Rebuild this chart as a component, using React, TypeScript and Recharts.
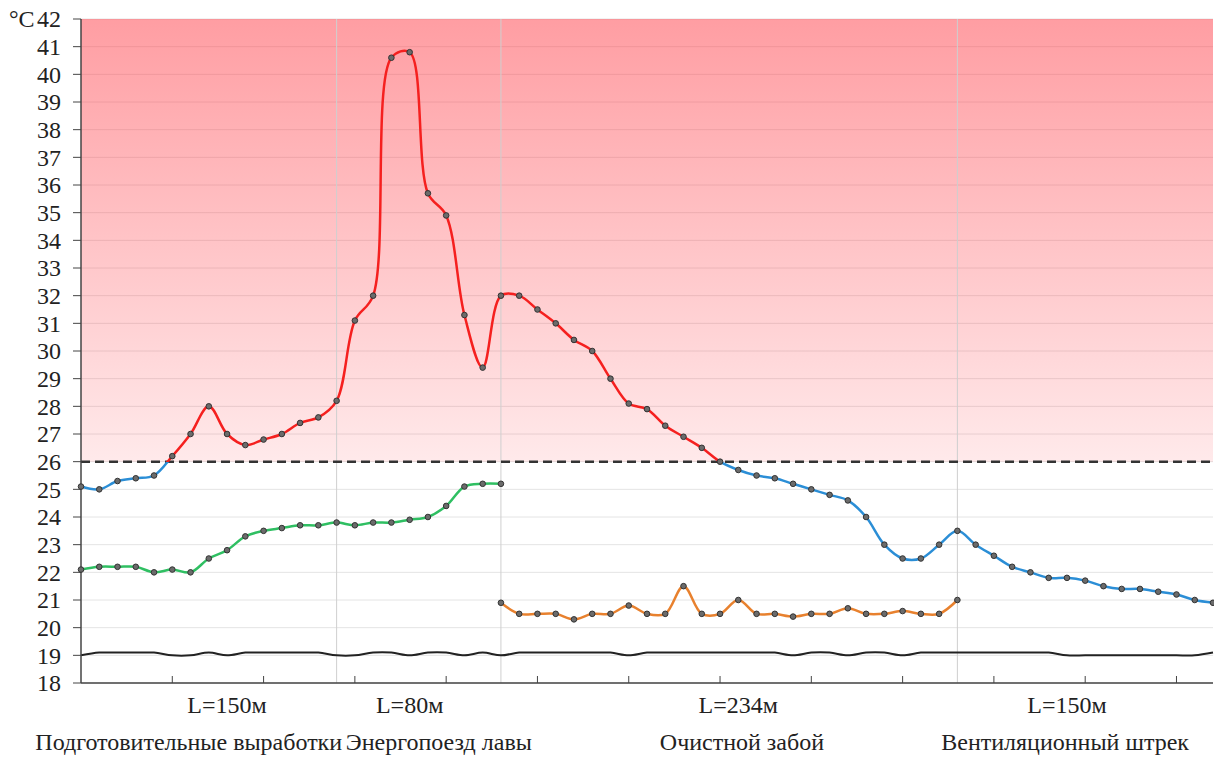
import { LineChart, Line, XAxis, YAxis, CartesianGrid, ReferenceLine, ReferenceArea } from "recharts";

// temperature along the route, one reading per station
const mainTemp = [
  25.1, 25.0, 25.3, 25.4, 25.5, 26.2, 27.0, 28.0, 27.0, 26.6, 26.8, 27.0, 27.4, 27.6, 28.2,
  31.1, 32.0, 40.6, 40.8, 35.7, 34.9, 31.3, 29.4, 32.0, 32.0, 31.5, 31.0, 30.4, 30.0, 29.0,
  28.1, 27.9, 27.3, 26.9, 26.5, 26.0, 25.7, 25.5, 25.4, 25.2, 25.0, 24.8, 24.6, 24.0, 23.0,
  22.5, 22.5, 23.0, 23.5, 23.0, 22.6, 22.2, 22.0, 21.8, 21.8, 21.7, 21.5, 21.4, 21.4, 21.3,
  21.2, 21.0, 20.9,
];
const greenTemp = [
  22.1, 22.2, 22.2, 22.2, 22.0, 22.1, 22.0, 22.5, 22.8, 23.3, 23.5, 23.6, 23.7, 23.7, 23.8,
  23.7, 23.8, 23.8, 23.9, 24.0, 24.4, 25.1, 25.2, 25.2,
];
const orangeStart = 23;
const orangeTemp = [
  20.9, 20.5, 20.5, 20.5, 20.3, 20.5, 20.5, 20.8, 20.5, 20.5, 21.5, 20.5, 20.5, 21.0, 20.5,
  20.5, 20.4, 20.5, 20.5, 20.7, 20.5, 20.5, 20.6, 20.5, 20.5, 21.0,
];
const baseTemp = [
  19.0, 19.1, 19.1, 19.1, 19.1, 19.0, 19.0, 19.1, 19.0, 19.1, 19.1, 19.1, 19.1, 19.1, 19.0,
  19.0, 19.1, 19.1, 19.0, 19.1, 19.1, 19.0, 19.1, 19.0, 19.1, 19.1, 19.1, 19.1, 19.1, 19.1,
  19.0, 19.1, 19.1, 19.1, 19.1, 19.1, 19.1, 19.1, 19.1, 19.0, 19.1, 19.1, 19.0, 19.1, 19.1,
  19.0, 19.1, 19.1, 19.1, 19.1, 19.1, 19.1, 19.1, 19.1, 19.0, 19.0, 19.0, 19.0, 19.0, 19.0,
  19.0, 19.0, 19.1,
];

const LIMIT = 26;
const Y_TICKS = Array.from({ length: 25 }, (_, k) => 18 + k);
const X_TICKS = [5, 10, 15, 20, 25, 30, 35, 40, 45, 50, 55, 60];
const BORDERS = [14, 23, 48];
const LENGTH_LABELS = ["L=150м", "L=80м", "L=234м", "L=150м"];
const LENGTH_AT = [8, 18, 36, 54];
const SECTION_NAMES = ["Подготовительные выработки", "Энергопоезд лавы", "Очистной забой", "Вентиляционный штрек"];
const SECTION_AT = [5.9, 19.6, 36.2, 53.9];

const W = 1214;
const H = 758;
const TOP = 19;
const X_AXIS_H = 75;
const FONT = "'Liberation Serif', 'Times New Roman', serif";
const FS = 24;

const data = mainTemp.map((v, i) => ({
  i,
  main: v,
  green: i < greenTemp.length ? greenTemp[i] : null,
  orange: i >= orangeStart && i < orangeStart + orangeTemp.length ? orangeTemp[i - orangeStart] : null,
  base: baseTemp[i],
}));

// centripetal catmull-rom through the points (same maths as d3 curveCatmullRom)
function smooth(context: any) {
  let pts: number[][] = [];
  const pw = (a: number[], b: number[]) => Math.pow((a[0] - b[0]) ** 2 + (a[1] - b[1]) ** 2, 0.5);
  return {
    areaStart() {},
    areaEnd() {},
    lineStart() {
      pts = [];
    },
    point(x: number, y: number) {
      pts.push([+x, +y]);
    },
    lineEnd() {
      if (!pts.length) return;
      context.moveTo(pts[0][0], pts[0][1]);
      for (let k = 0; k < pts.length - 1; k++) {
        const p0 = pts[k - 1];
        const p1 = pts[k];
        const p2 = pts[k + 1];
        const p3 = pts[k + 2];
        const l12_2a = pw(p1, p2);
        const l12_a = Math.sqrt(l12_2a);
        let c1 = p1;
        let c2 = p2;
        if (p0) {
          const l01_2a = pw(p0, p1);
          const l01_a = Math.sqrt(l01_2a);
          if (l01_a > 1e-12) {
            const a = 2 * l01_2a + 3 * l01_a * l12_a + l12_2a;
            const n = 3 * l01_a * (l01_a + l12_a);
            c1 = [0, 1].map((d) => (p1[d] * a - p0[d] * l12_2a + p2[d] * l01_2a) / n);
          }
        }
        if (p3) {
          const l23_2a = pw(p2, p3);
          const l23_a = Math.sqrt(l23_2a);
          if (l23_a > 1e-12) {
            const b = 2 * l23_2a + 3 * l23_a * l12_a + l12_2a;
            const m = 3 * l23_a * (l23_a + l12_a);
            c2 = [0, 1].map((d) => (p2[d] * b + p1[d] * l23_2a - p3[d] * l12_2a) / m);
          }
        }
        context.bezierCurveTo(c1[0], c1[1], c2[0], c2[1], p2[0], p2[1]);
      }
    },
  };
}

const dot = { r: 2.8, fill: "#6b6b6b", stroke: "#333", strokeWidth: 1 };
const split = (42 - LIMIT) / (42 - 18);

function YTick(props: any) {
  const { x, y, payload } = props;
  return (
    <text x={x} y={y} dy="0.35em" textAnchor="end" fill="#222" fontSize={FS} fontFamily={FONT}>
      {payload.value}
    </text>
  );
}

export default function App() {
  return (
    <div style={{ width: W, height: H, fontFamily: FONT }}>
      <style>{`body{margin:0}`}</style>
      <LineChart width={W} height={H} data={data} margin={{ top: TOP, right: 1, left: 0, bottom: 0 }}>
        <defs>
          <linearGradient id="hot" x1="0" y1="0" x2="0" y2="1">
            <stop offset="0%" stopColor="#ff3c46" stopOpacity={0.5} />
            <stop offset="100%" stopColor="#ff3c46" stopOpacity={0.11} />
          </linearGradient>
          <linearGradient id="mainStroke" gradientUnits="userSpaceOnUse" x1="0" y1={TOP} x2="0" y2={H - X_AXIS_H}>
            <stop offset={split} stopColor="#f5201f" />
            <stop offset={split} stopColor="#2b8ed6" />
          </linearGradient>
        </defs>
        <CartesianGrid vertical={false} stroke="#e4e4e4" />
        <ReferenceArea y1={LIMIT} y2={42} fill="url(#hot)" fillOpacity={1} stroke="none" />
        {BORDERS.map((b) => (
          <ReferenceLine key={b} x={b} stroke="#cfcfcf" strokeWidth={1} />
        ))}
        <XAxis
          type="number"
          dataKey="i"
          domain={[0, 62]}
          ticks={X_TICKS}
          height={X_AXIS_H}
          tickSize={-7}
          tickFormatter={() => ""}
          axisLine={{ stroke: "#444", strokeWidth: 1.5 }}
          tickLine={{ stroke: "#444" }}
        />
        <YAxis
          domain={[18, 42]}
          ticks={Y_TICKS}
          interval={0}
          width={81}
          tickSize={8}
          tickMargin={12}
          axisLine={{ stroke: "#444", strokeWidth: 1.5 }}
          tickLine={{ stroke: "#444" }}
          tick={<YTick />}
          label={{
            content: (p: any) => (
              <text x={9} y={p.viewBox.y + 8} fill="#222" fontSize={FS} fontFamily={FONT}>
                °C
              </text>
            ),
          }}
        />
        <ReferenceLine y={LIMIT} stroke="#333" strokeWidth={2.5} strokeDasharray="9 5" />
        {LENGTH_LABELS.map((t, k) => (
          <ReferenceLine
            key={"l" + k}
            x={LENGTH_AT[k]}
            stroke="none"
            label={{ value: t, position: "bottom", offset: 13, fill: "#222", fontSize: FS, fontFamily: FONT }}
          />
        ))}
        {SECTION_NAMES.map((t, k) => (
          <ReferenceLine
            key={"s" + k}
            x={SECTION_AT[k]}
            stroke="none"
            label={{ value: t, position: "bottom", offset: 50, fill: "#222", fontSize: FS, fontFamily: FONT }}
          />
        ))}
        <Line dataKey="base" type={smooth as any} stroke="#222" strokeWidth={2} dot={false} isAnimationActive={false} />
        <Line dataKey="green" type={smooth as any} stroke="#2fbf62" strokeWidth={2.5} dot={dot} isAnimationActive={false} />
        <Line dataKey="orange" type={smooth as any} stroke="#e8812e" strokeWidth={2.5} dot={dot} isAnimationActive={false} />
        <Line dataKey="main" type={smooth as any} stroke="url(#mainStroke)" strokeWidth={2.5} dot={dot} isAnimationActive={false} />
      </LineChart>
    </div>
  );
}
